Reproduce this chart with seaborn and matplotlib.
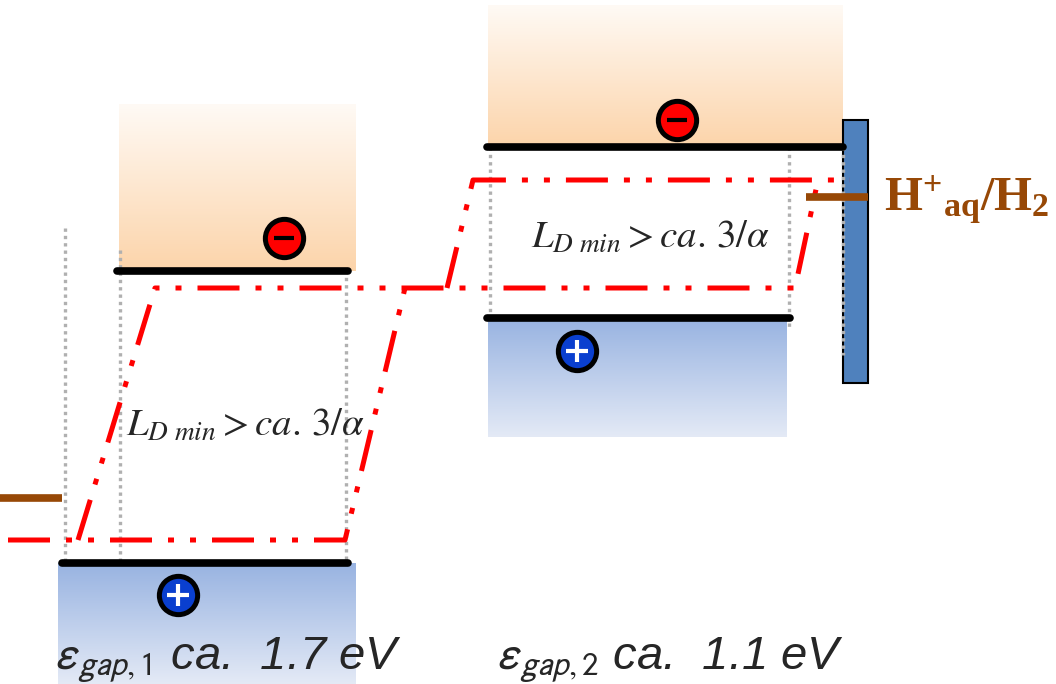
import numpy as np
import matplotlib.pyplot as plt
import seaborn as sns
from matplotlib.colors import to_rgb
from matplotlib.patches import Rectangle

# -----------------------------
# Diagram values (pixel space of the 1056 x 684 canvas, y grows downward)
# -----------------------------
W, H = 1056, 684

# conduction band regions: x0, x1, y_top, y_band
cb_x0 = [119, 488]
cb_x1 = [356, 843]
cb_top = [104, 5]
cb_level = [271, 147]
cb_line_x0 = [117, 487]
cb_line_x1 = [348, 843]

# valence band regions
vb_x0 = [58, 488]
vb_x1 = [356, 787]
vb_level = [563, 318]
vb_bottom = [684, 437]
vb_line_x0 = [62, 487]
vb_line_x1 = [348, 790]

# charges
electron_x = [284, 677]
electron_y = [238, 120]
hole_x = [178, 577]
hole_y = [595, 351]

# quasi-Fermi level paths
qfl_a_x = [8, 345, 405]
qfl_a_y = [540, 540, 288]
qfl_b_x = [78, 155, 795, 818]
qfl_b_y = [540, 288, 288, 180]
qfl_c_x = [447, 473, 850]
qfl_c_y = [288, 180, 180]

# dotted guide lines
guide_x = [65, 120, 346, 490, 789, 843]
guide_top = [228, 250, 270, 147, 147, 147]
guide_bot = [560, 560, 560, 318, 330, 355]

# H+/H2 redox level and electrode
redox_x0 = [0, 806]
redox_x1 = [62, 868]
redox_y = [498, 197]
electrode = (843, 868, 120, 383)

# labels
ld_label = r"$L_{D\ min} > ca.\,3/\alpha$"
ld_x = [245, 650]
ld_y = [425, 237]
gap_labels = [r"$\varepsilon_{gap,1}$ ca.  1.7 eV", r"$\varepsilon_{gap,2}$ ca.  1.1 eV"]
gap_x = [55, 497]
gap_y = [668, 668]

ORANGE_TOP, ORANGE_BOT = "#fffaf5", "#fcd4aa"
BLUE_TOP, BLUE_BOT = "#98b3e1", "#e4eaf6"
RED = "#ff0000"
BROWN = "#974806"

# -----------------------------
# Figure
# -----------------------------
sns.set_theme(style="white")
plt.rcParams["mathtext.fontset"] = "custom"
plt.rcParams["mathtext.rm"] = "Liberation Serif:bold"
plt.rcParams["mathtext.bf"] = "Liberation Serif:bold"
plt.rcParams["mathtext.it"] = "Liberation Serif:bold"

fig = plt.figure(figsize=(10.56, 6.84), dpi=100)
ax = fig.add_axes([0, 0, 1, 1])


def gradient(x0, x1, y0, y1, c_top, c_bot):
    t = np.linspace(0, 1, 256)[:, None, None]
    img = (1 - t) * np.array(to_rgb(c_top)) + t * np.array(to_rgb(c_bot))
    ax.imshow(img, extent=[x0, x1, y1, y0], aspect="auto", zorder=1,
              interpolation="bilinear")


for i in range(2):
    gradient(cb_x0[i], cb_x1[i], cb_top[i], cb_level[i], ORANGE_TOP, ORANGE_BOT)
    gradient(vb_x0[i], vb_x1[i], vb_level[i], vb_bottom[i], BLUE_TOP, BLUE_BOT)

# electrode
ex0, ex1, ey0, ey1 = electrode
ax.add_patch(Rectangle((ex0, ey0), ex1 - ex0, ey1 - ey0, facecolor="#4f81bd",
                       edgecolor="black", lw=1.5, zorder=2))

# dotted guides
for x, y0, y1 in zip(guide_x, guide_top, guide_bot):
    ax.plot([x, x], [y0, y1], color="#b0b0b0", lw=2.4,
            linestyle=(0, (1, 1.2)), zorder=3)

# quasi-Fermi levels
dash = (8.4, 3.2, 1.2, 3.2, 1.2, 3.2)
for xs, ys in [(qfl_a_x, qfl_a_y), (qfl_b_x, qfl_b_y), (qfl_c_x, qfl_c_y)]:
    ax.plot(xs, ys, color=RED, lw=3.6, dashes=dash,
            solid_capstyle="butt", dash_capstyle="butt", zorder=4)

# band edges
for i in range(2):
    ax.plot([cb_line_x0[i], cb_line_x1[i]], [cb_level[i]] * 2, color="black",
            lw=5.5, solid_capstyle="round", zorder=5)
    ax.plot([vb_line_x0[i], vb_line_x1[i]], [vb_level[i]] * 2, color="black",
            lw=5.5, solid_capstyle="round", zorder=5)

# redox levels
for x0, x1, y in zip(redox_x0, redox_x1, redox_y):
    ax.plot([x0, x1], [y, y], color=BROWN, lw=5.5, solid_capstyle="butt", zorder=5)

# charges
sns.scatterplot(x=electron_x, y=electron_y, s=760, color=RED,
                edgecolor="black", linewidth=3.6, zorder=6, ax=ax)
sns.scatterplot(x=electron_x, y=electron_y, s=220, marker="_",
                color="black", linewidth=3, zorder=7, ax=ax)
sns.scatterplot(x=hole_x, y=hole_y, s=760, color="#0a3fcf",
                edgecolor="black", linewidth=3.6, zorder=6, ax=ax)
sns.scatterplot(x=hole_x, y=hole_y, s=230, marker="+",
                color="white", linewidth=3, zorder=7, ax=ax)

# labels
for x, y in zip(ld_x, ld_y):
    ax.text(x, y, ld_label, ha="center", va="center", fontsize=28,
            math_fontfamily="stix", zorder=8)

for lab, x, y in zip(gap_labels, gap_x, gap_y):
    ax.text(x, y, lab, ha="left", va="baseline", fontsize=34,
            family="Liberation Sans", style="italic",
            math_fontfamily="stixsans", zorder=8)

ax.text(884, 200, r"$\mathrm{H}^{+}{}_{\mathrm{aq}}/\mathrm{H}_{2}$",
        ha="left", va="center", fontsize=35, color=BROWN,
        math_fontfamily="custom", zorder=8)

ax.set_xlim(0, W)
ax.set_ylim(H, 0)
ax.axis("off")

plt.savefig("out.png", dpi=100)
